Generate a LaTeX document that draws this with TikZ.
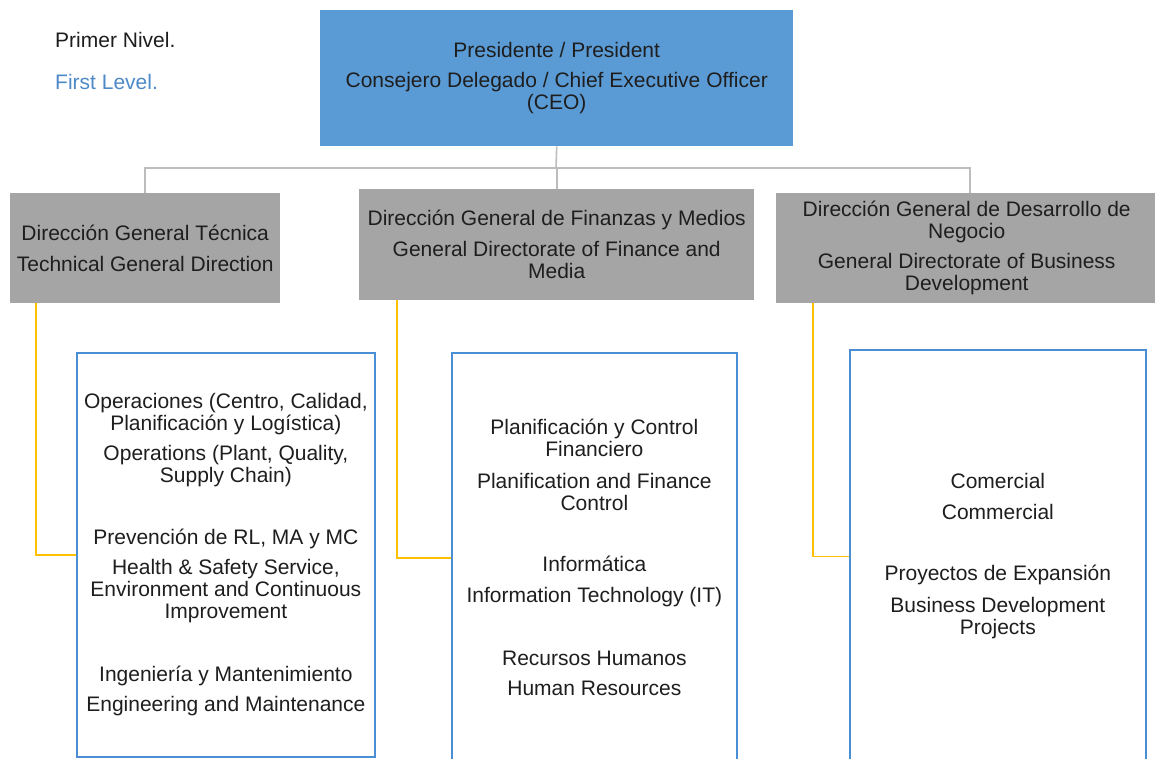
\documentclass[tikz,border=0pt]{standalone}
\usepackage{fontspec}
\setmainfont{Liberation Sans}
\definecolor{ceoblue}{HTML}{5B9BD5}
\definecolor{boxgray}{HTML}{A5A5A5}
\definecolor{linegray}{HTML}{BDBDBD}
\definecolor{lineyellow}{HTML}{FFC000}
\definecolor{txt}{HTML}{1E1E1E}
\definecolor{lblue}{HTML}{4E89C7}
\definecolor{unitblue}{HTML}{4A8FD6}
\tikzset{
  base/.style={font=\fontsize{21}{22}\selectfont, text=txt, align=center, inner sep=0pt},
  ceobox/.style={base, fill=ceoblue, anchor=north west},
  dirbox/.style={base, fill=boxgray, anchor=north west},
  unitbox/.style={base, draw=unitblue, line width=1.7pt, fill=white, anchor=north west},
  gline/.style={draw=linegray, line width=1.6pt},
  yline/.style={draw=lineyellow, line width=1.4pt},
  lbl/.style={base, anchor=west, align=left}
}
\begin{document}
\begin{tikzpicture}[x=1pt,y=-1pt]
\useasboundingbox (0,0) rectangle (1155,758);
\clip (0,0) rectangle (1155,758);
\fill[white] (0,0) rectangle (1155,758);

\node[lbl] (lvl1) at (55,40) {Primer Nivel.};
\node[lbl, text=lblue] (lvl2) at (55,82) {First Level.};

\node[ceobox, minimum width=473pt, minimum height=136pt] (ceo) at (320,10)
  {Presidente / President\\[8pt] Consejero Delegado / Chief Executive Officer\\ (CEO)};

\node[dirbox, minimum width=270pt, minimum height=110pt] (dgt) at (10,193)
  {Dirección General Técnica\\[9pt] Technical General Direction};
\node[dirbox, minimum width=395pt, minimum height=111pt] (dgf) at (359,189)
  {Dirección General de Finanzas y Medios\\[9pt] General Directorate of Finance and\\ Media};
\node[dirbox, minimum width=381pt, minimum height=110pt] (dgn) at (776,193)
  {Dirección General de Desarrollo de\\ Negocio\\[8pt] General Directorate of Business\\ Development};

\coordinate (bus) at (556,168);
\draw[gline] (ceo.south) -- (bus);
\draw[gline] (dgt.north) |- (bus) -| (dgf.north);
\draw[gline] (bus) -| ([xshift=3.5pt]dgn.north);

\node[unitbox, minimum width=298pt, minimum height=404pt, text depth=4pt] (ops) at (76,352)
  {Operaciones (Centro, Calidad,\\ Planificación y Logística)\\[8pt]
   Operations (Plant, Quality,\\ Supply Chain)\\[40pt]
   Prevención de RL, MA y MC\\[8pt]
   Health \& Safety Service,\\ Environment and Continuous\\ Improvement\\[41pt]
   Ingeniería y Mantenimiento\\[8pt]
   Engineering and Maintenance};
\node[unitbox, minimum width=285pt, minimum height=410pt] (fin) at (451,352)
  {Planificación y Control\\ Financiero\\[10pt]
   Planification and Finance\\ Control\\[39pt]
   Informática\\[9pt]
   Information Technology (IT)\\[41pt]
   Recursos Humanos\\[8pt]
   Human Resources};
\node[unitbox, minimum width=296pt, minimum height=413pt] (biz) at (849,349)
  {Comercial\\[9pt]
   Commercial\\[39pt]
   Proyectos de Expansión\\[10pt]
   Business Development\\ Projects};

\draw[yline] ([xshift=26pt]dgt.south west) |- (ops.west);
\draw[yline] ([xshift=38pt]dgf.south west) |- (fin.west);
\draw[yline] ([xshift=37pt]dgn.south west) |- (biz.west);
\end{tikzpicture}
\end{document}
